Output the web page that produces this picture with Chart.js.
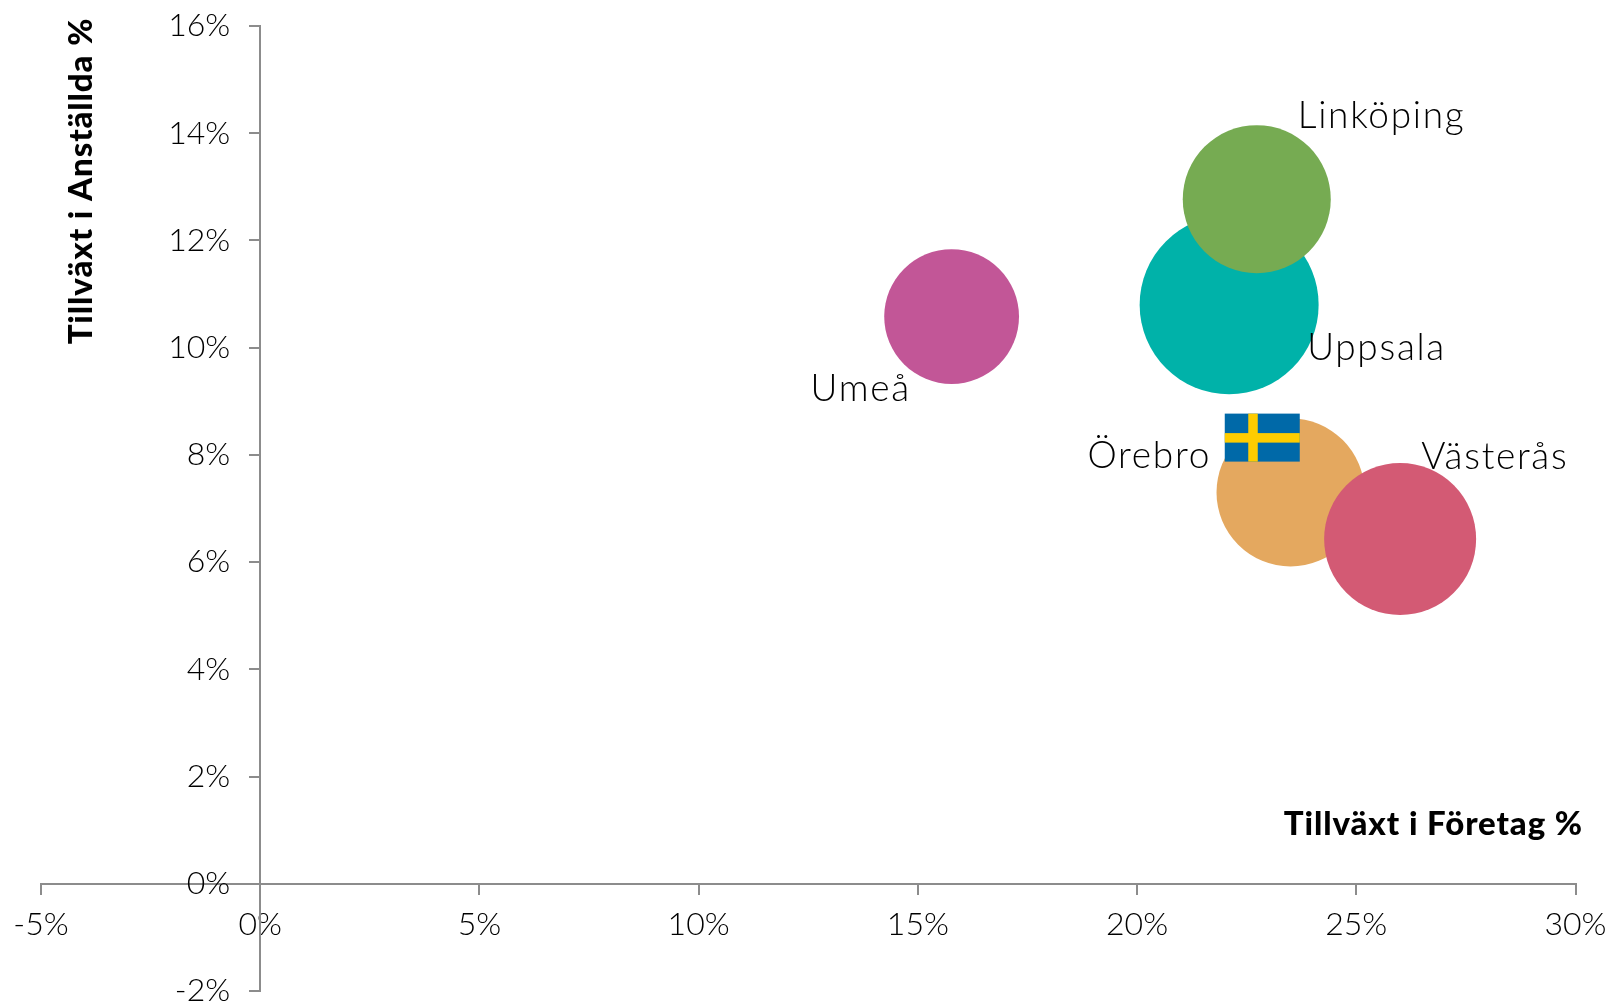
<!DOCTYPE html>
<html><head><meta charset="utf-8">
<style>html,body{margin:0;padding:0;background:#fff;overflow:hidden}canvas{display:block}</style>
<script src="https://cdn.jsdelivr.net/npm/chart.js@4"></script></head>
<body><canvas id="c" width="1613" height="1004"></canvas>
<script>
const cities = ['Umeå','Uppsala','Linköping','Örebro','Västerås'];
const foretagGrowth = [15.77,22.1,22.73,23.5,26.0];
const anstalldaGrowth = [10.58,10.8,12.77,7.3,6.43];
const bubbleSizes = [67.4,89.5,74,74,76];
const colors = ['#C25697','#00B2A9','#76AB52','#E4A85F','#D35A74'];
const labelOffsets = [[-141,84],[78,55],[41,-71],[-203,-24],[21,-70]];
const xTitle = 'Tillväxt i Företag %';
const yTitle = 'Tillväxt i Anställda %';
const flagAt = [22.0,8.77];
const lightFont = '300 37px Lato';
const tickFont = {family:'Lato',weight:'300',size:32};
const boldFont = '900 33px Lato';
const pct = v => v + '%';

const overlay = {
  id:'overlay',
  afterDatasetsDraw(chart){
    const {ctx,scales:{x,y}} = chart;
    const meta = chart.getDatasetMeta(0);
    ctx.save();
    // Swedish flag
    const fx = x.getPixelForValue(flagAt[0]), fy = y.getPixelForValue(flagAt[1]);
    ctx.fillStyle='#0069A8'; ctx.fillRect(fx,fy,75,48);
    ctx.fillStyle='#FECC00'; ctx.fillRect(fx+23.5,fy,9.5,48); ctx.fillRect(fx,fy+19.5,75,9.5);
    // city labels
    ctx.fillStyle='#000'; ctx.font=lightFont; ctx.letterSpacing='1.7px'; ctx.textAlign='left'; ctx.textBaseline='alphabetic';
    cities.forEach((c,i)=>{
      const p = meta.data[i];
      ctx.fillText(c,p.x+labelOffsets[i][0],p.y+labelOffsets[i][1]);
    });
    // y tick labels (Chart.js gives no padding on axes placed at a value)
    ctx.letterSpacing='0px';
    ctx.font=`${tickFont.weight} ${tickFont.size}px ${tickFont.family}`;
    ctx.textAlign='right'; ctx.textBaseline='middle';
    y.ticks.forEach(t=>ctx.fillText(pct(t.value),x.getPixelForValue(0)-30,y.getPixelForValue(t.value)));
    // axis titles
    ctx.fillStyle='#000'; ctx.font=boldFont; ctx.letterSpacing='0.9px'; ctx.textBaseline='alphabetic';
    ctx.textAlign='right'; ctx.fillText(xTitle,1583,835);
    ctx.translate(92,181); ctx.rotate(-Math.PI/2);
    ctx.textAlign='center'; ctx.fillText(yTitle,0,0);
    ctx.restore();
  }
};
const zeroFit = s => { s.width=0; s.height=0; s.paddingLeft=s.paddingRight=s.paddingTop=s.paddingBottom=0; };

new Chart(document.getElementById('c'),{
  type:'bubble',
  data:{datasets:[{
    data:cities.map((c,i)=>({x:foretagGrowth[i],y:anstalldaGrowth[i],r:bubbleSizes[i]})),
    backgroundColor:colors,borderWidth:0,hoverRadius:0,hoverBorderWidth:0,clip:false
  }]},
  options:{
    responsive:false,animation:false,events:[],
    layout:{autoPadding:false,padding:{left:41,right:37.5,top:26,bottom:13}},
    plugins:{legend:{display:false},tooltip:{enabled:false}},
    scales:{
      x:{type:'linear',min:-5,max:30,position:{y:0},afterFit:zeroFit,
        border:{display:true,color:'#8c8c8c',width:2},
        grid:{drawOnChartArea:false,drawTicks:true,tickLength:10,color:'#8c8c8c',lineWidth:2},
        ticks:{stepSize:5,autoSkip:false,maxRotation:0,padding:12,color:'#000',font:tickFont,callback:pct}},
      y:{type:'linear',min:-2,max:16,position:{x:0},afterFit:zeroFit,
        border:{display:true,color:'#8c8c8c',width:2},
        grid:{drawOnChartArea:false,drawTicks:true,tickLength:10,color:'#8c8c8c',lineWidth:2},
        ticks:{stepSize:2,autoSkip:false,display:false,callback:pct}}
    }
  },
  plugins:[overlay]
});
</script></body></html>
